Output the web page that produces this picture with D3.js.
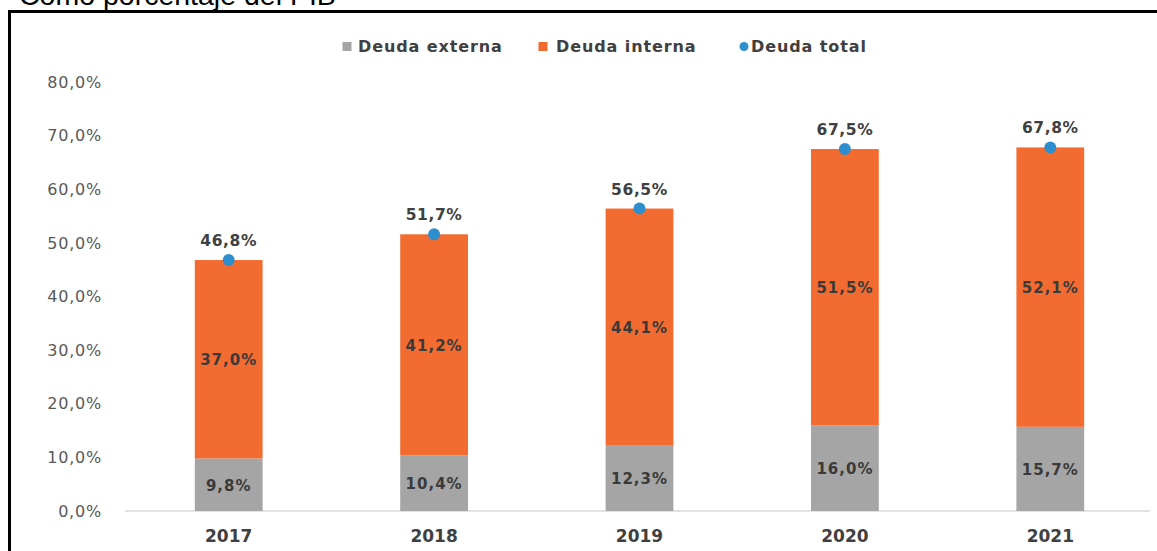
<!DOCTYPE html>
<html><head><meta charset="utf-8">
<script src="https://cdn.jsdelivr.net/npm/d3@7"></script>
<style>
html,body{margin:0;padding:0;background:#fff;}
svg{display:block;}
</style></head>
<body>
<svg id="c" width="1157" height="551"></svg>
<script>
const categories = ["2017","2018","2019","2020","2021"];
const externa = [9.8, 10.4, 12.3, 16.0, 15.7];
const interna = [37.0, 41.2, 44.1, 51.5, 52.1];
const total = [46.8, 51.7, 56.5, 67.5, 67.8];
const yTicks = [0,10,20,30,40,50,60,70,80];
const seriesNames = ["Deuda externa","Deuda interna","Deuda total"];

const fmt = v => v.toFixed(1).replace(".", ",") + "%";
const cGray = "#a5a5a5", cOrange = "#f26b30", cBlue = "#2e8fcf";
const font = "'DejaVu Sans', Verdana, sans-serif";

const svg = d3.select("#c");

// title (cut off at top)
svg.append("text").attr("x", 19).attr("y", 5)
  .attr("font-family", "'Liberation Sans', Arial, sans-serif")
  .attr("font-size", 28.5).attr("fill", "#000")
  .text("Como porcentaje del PIB");

// frame
svg.append("path").attr("d", "M9.5,551 L9.5,11.5 L1157,11.5")
  .attr("fill", "none").attr("stroke", "#000").attr("stroke-width", 3);

const x = d3.scaleBand().domain(categories).range([126, 1153]).paddingInner(0.67).paddingOuter(0.335);
const y = d3.scaleLinear().domain([0, 80]).range([511, 82]);

// y axis labels
const yAxis = d3.axisLeft(y).tickValues(yTicks).tickFormat(d => d.toFixed(1).replace(".", ",") + "%").tickSize(0).tickPadding(0);
const ga = svg.append("g").attr("transform", "translate(102,0)").call(yAxis);
ga.select(".domain").remove();
ga.selectAll("text").attr("font-family", font).attr("font-size", 16).attr("letter-spacing", 0.8).attr("fill", "#595959");

// baseline
svg.append("line").attr("x1", 125).attr("x2", 1150).attr("y1", y(0)).attr("y2", y(0))
  .attr("stroke", "#d9d9d9").attr("stroke-width", 1.5);

// x axis
const xAxis = d3.axisBottom(x).tickSize(0).tickPadding(0);
const gx = svg.append("g").attr("transform", "translate(0,530)").call(xAxis);
gx.select(".domain").remove();
gx.selectAll("text").attr("font-family", font).attr("font-size", 17).attr("font-weight", "bold").attr("fill", "#404040");

const data = categories.map((c, i) => ({c, e: externa[i], n: interna[i], t: total[i]}));

// bars
svg.selectAll("rect.ext").data(data).enter().append("rect")
  .attr("x", d => x(d.c)).attr("width", x.bandwidth())
  .attr("y", d => y(d.e)).attr("height", d => y(0) - y(d.e)).attr("fill", cGray);
svg.selectAll("rect.int").data(data).enter().append("rect")
  .attr("x", d => x(d.c)).attr("width", x.bandwidth())
  .attr("y", d => y(d.e + d.n)).attr("height", d => y(d.e) - y(d.e + d.n)).attr("fill", cOrange);

// segment labels
svg.selectAll("text.el").data(data).enter().append("text")
  .attr("x", d => x(d.c) + x.bandwidth()/2).attr("y", d => y(d.e/2) + 6)
  .attr("text-anchor", "middle").attr("font-family", font).attr("font-size", 15).attr("font-weight", "bold")
  .attr("letter-spacing", 1).attr("fill", "#3a3a3a").text(d => fmt(d.e));
svg.selectAll("text.nl").data(data).enter().append("text")
  .attr("x", d => x(d.c) + x.bandwidth()/2).attr("y", d => y(d.e + d.n/2) + 6)
  .attr("text-anchor", "middle").attr("font-family", font).attr("font-size", 15).attr("font-weight", "bold")
  .attr("letter-spacing", 1).attr("fill", "#3a3a3a").text(d => fmt(d.n));

// total dots
svg.selectAll("circle.t").data(data).enter().append("circle")
  .attr("cx", d => x(d.c) + x.bandwidth()/2).attr("cy", d => y(d.e + d.n)).attr("r", 6).attr("fill", cBlue);
svg.selectAll("text.tl").data(data).enter().append("text")
  .attr("x", d => x(d.c) + x.bandwidth()/2).attr("y", d => y(d.e + d.n) - 14)
  .attr("text-anchor", "middle").attr("font-family", font).attr("font-size", 15.5).attr("font-weight", "bold")
  .attr("letter-spacing", 0.6).attr("fill", "#404040").text(d => fmt(d.t));

// legend
const leg = [
  {n: seriesNames[0], c: cGray, x: 347, tx: 358, s: "rect"},
  {n: seriesNames[1], c: cOrange, x: 543, tx: 556, s: "rect"},
  {n: seriesNames[2], c: cBlue, x: 744, tx: 751, s: "circle"}
];
leg.forEach(l => {
  if (l.s === "rect") svg.append("rect").attr("x", l.x - 4.5).attr("y", 42).attr("width", 9).attr("height", 9).attr("fill", l.c);
  else svg.append("circle").attr("cx", l.x).attr("cy", 46.5).attr("r", 4.5).attr("fill", l.c);
  svg.append("text").attr("x", l.tx).attr("y", 52).attr("font-family", font).attr("font-size", 16)
    .attr("letter-spacing", 0.9).attr("font-weight", "bold").attr("fill", "#404040").text(l.n);
});
</script>
</body></html>
